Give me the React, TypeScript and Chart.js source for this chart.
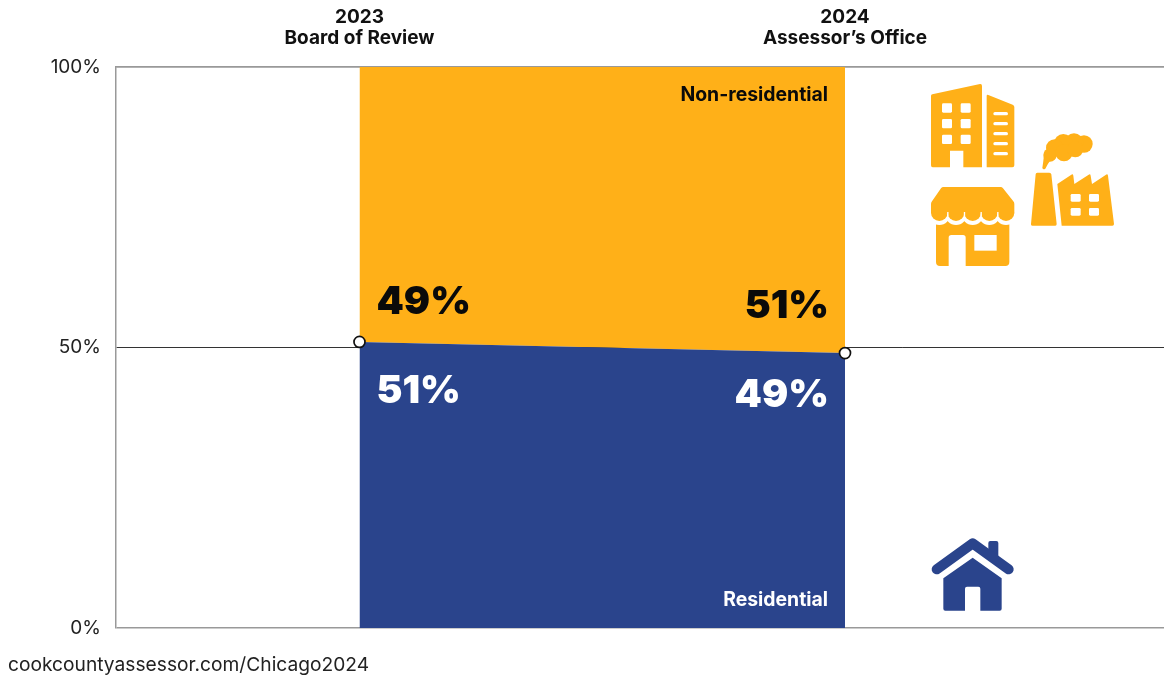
import React, { useEffect, useRef } from "react";
import { Chart, registerables } from "chart.js";

Chart.register(...registerables);

const years = [2023, 2024];
const offices = ["Board of Review", "Assessor’s Office"];
const residentialShare = [51, 49];
const nonResidentialShare = [49, 51];
const seriesNames = ["Residential", "Non-residential"];
const yTicks = [0, 50, 100];
const footerText = "cookcountyassessor.com/Chicago2024";

const ORANGE = "#FFB018";
const BLUE = "#2A448C";
const FONT = "Inter, 'Noto Sans', sans-serif";

// Pictograms are authored on a 3x grid and placed beside the plot.
function drawBuilding(ctx: CanvasRenderingContext2D) {
  ctx.fillStyle = ORANGE;
  ctx.fill(new Path2D("M97 103 L240 72 Q246 71 246 78 L246 322 L190 322 L190 272 L150 272 L150 322 L98 322 Q93 322 93 316 L93 108 Q93 104 97 103Z"));
  ctx.fill(new Path2D("M260 108 Q260 103 265 105 L338 134 Q343 136 343 141 L343 316 Q343 322 337 322 L260 322Z"));
  ctx.fillStyle = "#fff";
  for (const x of [126, 182]) for (const y of [130, 177, 224]) ctx.fill(new Path2D(`M${x + 4} ${y} h22 q4 0 4 4 v20 q0 4 -4 4 h-22 q-4 0 -4 -4 v-20 q0 -4 4 -4Z`));
  for (const y of [156, 186, 216, 246, 276]) ctx.fill(new Path2D(`M285 ${y} h34 q5 0 5 5 q0 5 -5 5 h-34 q-5 0 -5 -5 q0 -5 5 -5Z`));
}

function drawFactory(ctx: CanvasRenderingContext2D) {
  ctx.fillStyle = ORANGE;
  ctx.fill(new Path2D("M412 338 L448 338 Q453 338 454 343 L470 492 Q470 497 466 497 L397 497 Q392 497 393 492 L407 343 Q407 338 412 338Z"));
  ctx.fill(new Path2D("M472 372 L514 344 Q519 341 520 347 L523 372 L566 344 Q571 341 572 347 L576 372 L618 344 Q623 341 624 347 L642 492 Q642 497 637 497 L485 497Z"));
  const puffs = [[552, 252, 26], [522, 248, 28], [490, 250, 28], [464, 264, 26], [450, 285, 20], [492, 278, 26], [526, 268, 24]];
  for (const [cx, cy, r] of puffs) {
    const puff = new Path2D();
    puff.arc(cx, cy, r, 0, Math.PI * 2);
    ctx.fill(puff);
  }
  ctx.fill(new Path2D("M427 324 Q430 305 432 285 L452 300 Q444 310 436 326 Q430 331 427 324Z"));
  ctx.fillStyle = "#fff";
  for (const x of [512, 567]) for (const y of [402, 444]) ctx.fill(new Path2D(`M${x + 4} ${y} h22 q4 0 4 4 v15 q0 4 -4 4 h-22 q-4 0 -4 -4 v-15 q0 -4 4 -4Z`));
}

function drawStore(ctx: CanvasRenderingContext2D) {
  ctx.fillStyle = ORANGE;
  ctx.fill(new Path2D("M108 480 L328 480 L328 606 Q328 618 316 618 L197 618 L197 533 Q197 525 189 525 L154 525 Q146 525 146 533 L146 618 L120 618 Q108 618 108 606Z"));
  const scallops = [118, 168, 218, 268, 318];
  ctx.fillStyle = "#fff";
  for (const x of scallops) ctx.fill(new Path2D(`M${x - 33} 462 a33 33 0 0 0 66 0Z`));
  ctx.fillRect(223, 525, 67, 47);
  ctx.fillStyle = ORANGE;
  ctx.fill(new Path2D("M130 381 L302 381 Q306 381 309 385 L340 424 Q343 428 343 432 L343 460 L93 460 L93 432 Q93 428 96 424 L123 385 Q126 381 130 381Z"));
  for (const x of scallops) ctx.fill(new Path2D(`M${x - 25} 458 a25 25 0 0 0 50 0Z`));
  ctx.fillStyle = "#fff";
  for (const x of [143, 193, 243, 293]) ctx.fillRect(x - 1.5, 456, 4, 12);
}

function drawHouse(ctx: CanvasRenderingContext2D) {
  ctx.fillStyle = BLUE;
  ctx.fill(new Path2D("M265 69 Q265 63 271 63 L289 63 Q295 63 295 69 L295 115 L265 92Z"));
  ctx.fill(new Path2D("M218 113 L305 175 L305 266 Q305 272 299 272 L241 272 L241 206 Q241 200 235 200 L201 200 Q195 200 195 206 L195 272 L136 272 Q130 272 130 266 L130 175Z"));
  ctx.save();
  ctx.strokeStyle = BLUE;
  ctx.lineWidth = 30;
  ctx.lineCap = "round";
  ctx.lineJoin = "round";
  ctx.stroke(new Path2D("M110 148 L218 70 L326 148"));
  ctx.restore();
}

const pictograms = {
  id: "pictograms",
  afterDraw(chart: Chart) {
    const { ctx } = chart;
    ctx.save();
    ctx.translate(900, 60);
    ctx.scale(1 / 3, 1 / 3);
    drawBuilding(ctx);
    drawFactory(ctx);
    drawStore(ctx);
    ctx.restore();
    ctx.save();
    ctx.translate(900, 520);
    ctx.scale(1 / 3, 1 / 3);
    drawHouse(ctx);
    ctx.restore();
  },
};

// Percentage call-outs, series names and the footer address.
const annotations = {
  id: "annotations",
  afterDatasetsDraw(chart: Chart) {
    const { ctx, scales } = chart;
    const x = scales.x;
    const y = scales.y;
    const left = x.getPixelForValue(years[0]);
    const right = x.getPixelForValue(years[1]);
    ctx.save();
    ctx.font = `900 39px ${FONT}`;
    ctx.textBaseline = "alphabetic";
    ctx.textAlign = "left";
    ctx.fillStyle = "#0A0A0A";
    ctx.fillText(`${nonResidentialShare[0]}%`, left + 17, y.getPixelForValue(residentialShare[0]) - 28);
    ctx.fillStyle = "#fff";
    ctx.fillText(`${residentialShare[0]}%`, left + 17, y.getPixelForValue(residentialShare[0]) + 61);
    ctx.textAlign = "right";
    ctx.fillStyle = "#0A0A0A";
    ctx.fillText(`${nonResidentialShare[1]}%`, right - 16, y.getPixelForValue(residentialShare[1]) - 35);
    ctx.fillStyle = "#fff";
    ctx.fillText(`${residentialShare[1]}%`, right - 16, y.getPixelForValue(residentialShare[1]) + 54);

    ctx.font = `700 19.4px ${FONT}`;
    ctx.fillStyle = "#0A0A0A";
    ctx.fillText(seriesNames[1], right - 17, 101);
    ctx.fillStyle = "#fff";
    ctx.fillText(seriesNames[0], right - 17, 606);

    ctx.font = `400 19.2px ${FONT}`;
    ctx.textAlign = "left";
    ctx.fillStyle = "#222";
    ctx.fillText(footerText, 8, 671);
    ctx.restore();
  },
};

export default function App() {
  const ref = useRef<HTMLCanvasElement>(null);

  useEffect(() => {
    document.body.style.margin = "0";
    const chart = new Chart(ref.current!, {
      type: "line",
      data: {
        datasets: [
          {
            label: seriesNames[0],
            data: years.map((x, i) => ({ x, y: residentialShare[i] })),
            backgroundColor: BLUE,
            borderWidth: 0,
            fill: "origin",
            tension: 0,
            pointRadius: 5.5,
            pointBackgroundColor: "#fff",
            pointBorderColor: "#111",
            pointBorderWidth: 1.7,
          },
          {
            label: seriesNames[1],
            data: years.map((x, i) => ({ x, y: nonResidentialShare[i] })),
            backgroundColor: ORANGE,
            borderWidth: 0,
            fill: "-1",
            tension: 0,
            pointRadius: 0,
          },
        ],
      },
      options: {
        responsive: false,
        animation: false,
        layout: { autoPadding: false, padding: { left: 0, right: 0, top: 0, bottom: 49 } },
        plugins: { legend: { display: false }, tooltip: { enabled: false } },
        scales: {
          x: {
            type: "linear",
            position: "top",
            min: 2022.4985,
            max: 2024.657,
            grid: { display: false, drawTicks: false },
            border: { display: true, color: "#999", width: 1.5 },
            afterFit: (s: any) => { s.height = 67; },
            afterBuildTicks: (s: any) => { s.ticks = years.map((value) => ({ value })); },
            ticks: {
              autoSkip: false,
              maxRotation: 0,
              padding: 18,
              color: "#111",
              font: { family: FONT, size: 19, weight: 700, lineHeight: 1.1 },
              callback: (v: any) => [String(v), offices[years.indexOf(v)]],
            },
          },
          y: {
            stacked: true,
            min: 0,
            max: 100,
            grid: {
              drawTicks: false,
              color: (c: any) => (c.tick.value === 50 ? "#333" : "#999"),
              lineWidth: (c: any) => (c.tick.value === 50 ? 1 : 1.5),
            },
            border: { display: true, color: "#999", width: 1.5 },
            afterFit: (s: any) => { s.width = 116; },
            afterBuildTicks: (s: any) => { s.ticks = yTicks.map((value) => ({ value })); },
            ticks: {
              padding: 15,
              color: "#222",
              font: { family: FONT, size: 19, weight: 400 },
              callback: (v: any) => `${v}%`,
            },
          },
        },
      },
      plugins: [annotations, pictograms],
    });
    return () => chart.destroy();
  }, []);

  return <canvas ref={ref} width={1164} height={677} style={{ display: "block" }} />;
}
